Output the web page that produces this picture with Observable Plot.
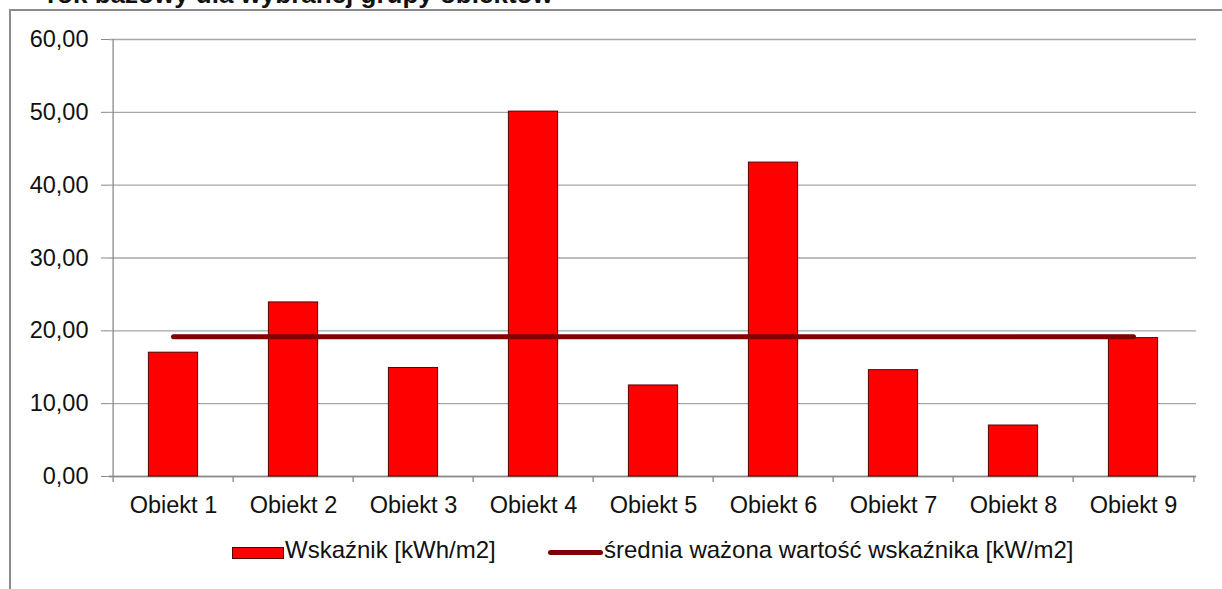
<!DOCTYPE html>
<html>
<head>
<meta charset="utf-8">
<script src="https://cdn.jsdelivr.net/npm/d3@7"></script>
<script src="https://cdn.jsdelivr.net/npm/@observablehq/plot@0.6"></script>
<style>
  html, body { margin: 0; padding: 0; background: #fff; }
  #wrap { position: relative; width: 1222px; height: 589px; overflow: hidden; background: #fff;
          font-family: "Liberation Sans", Arial, sans-serif; color: #111; }
  #title { position: absolute; left: 47px; top: -19px; font-size: 26px; line-height: 1; font-weight: bold; white-space: nowrap; }
  #frame { position: absolute; left: 9px; top: 9px; width: 1300px; height: 700px; border: 2px solid #8c8c8c; box-sizing: border-box; }
  #chart { position: absolute; left: 0; top: 0; }
  #legend { position: absolute; left: 0; top: 535px; width: 1222px; height: 30px; font-size: 24px; }
  .sw-bar { position: absolute; left: 232px; top: 12px; width: 50px; height: 10px; background: #ff0000; border: 1px solid #5a0000; }
  .sw-line { position: absolute; left: 548px; top: 15px; width: 55px; height: 5px; background: #800000; border-radius: 3px; }
  .lt { position: absolute; top: 1px; line-height: 1.2; white-space: nowrap; }
</style>
</head>
<body>
<div id="wrap">
  <div id="title"></div>
  <div id="frame"></div>
  <div id="chart"></div>
  <div id="legend">
    <div class="sw-bar"></div><span class="lt" id="l1" style="left:285px"></span>
    <div class="sw-line"></div><span class="lt" id="l2" style="left:604px"></span>
  </div>
</div>
<script>
const titleText = "rok bazowy dla wybranej grupy obiektów";
const categories = ["Obiekt 1", "Obiekt 2", "Obiekt 3", "Obiekt 4", "Obiekt 5", "Obiekt 6", "Obiekt 7", "Obiekt 8", "Obiekt 9"];
const indicatorValues = [17.0, 23.9, 14.9, 50.1, 12.5, 43.1, 14.6, 7.0, 19.0];
const weightedAverage = [19.2, 19.2, 19.2, 19.2, 19.2, 19.2, 19.2, 19.2, 19.2];
const yTicks = [0, 10, 20, 30, 40, 50, 60];
const seriesNames = ["Wskaźnik [kWh/m2]", "średnia ważona wartość wskaźnika [kW/m2]"];

document.getElementById("title").textContent = titleText;
document.getElementById("l1").textContent = seriesNames[0];
document.getElementById("l2").textContent = seriesNames[1];

const data = categories.map((c, i) => ({name: c, value: indicatorValues[i], avg: weightedAverage[i]}));

const W = 1222, H = 520;
const mL = 109, mR = 26, mT = 39, mB = 44;
const bw = (W - mL - mR) / categories.length;
const barInset = (bw - 50) / 2;
const fmt = d => d.toFixed(2).replace(".", ",");
const boundaryCats = categories.map((c, i) => ({name: c, dx: -bw / 2})).concat([{name: categories[categories.length - 1], dx: bw / 2}]);

const chart = Plot.plot({
  width: W, height: H,
  marginLeft: mL, marginRight: mR, marginTop: mT, marginBottom: mB,
  style: {fontFamily: "'Liberation Sans', Arial, sans-serif", fontSize: "23.5px", color: "#111", background: "transparent"},
  x: {domain: categories, padding: 0, label: null},
  y: {domain: [0, 60], label: null},
  marks: [
    Plot.gridY(yTicks, {stroke: "#a6a6a6", strokeOpacity: 1, strokeWidth: 1.3}),
    Plot.axisY(yTicks, {tickFormat: fmt, tickSize: 8, tickPadding: 13, stroke: "#888", label: null, fontSize: 23.5}),
    Plot.axisX({tickSize: 0, tickPadding: 20, label: null, fontSize: 23.5}),
    Plot.ruleX([categories[0]], {dx: -bw / 2, stroke: "#888", strokeWidth: 1.3}),
    ...boundaryCats.map(b => Plot.ruleX([b.name], {dx: b.dx, y1: 0, y2: 0, insetBottom: -6, stroke: "#888", strokeWidth: 1.3})),
    Plot.ruleY([0], {stroke: "#888", strokeWidth: 1.3}),
    Plot.barY(data, {x: "name", y: "value", fill: "#ff0000", stroke: "#5a0000", strokeWidth: 1, insetLeft: barInset, insetRight: barInset}),
    Plot.lineY(data, {x: "name", y: "avg", stroke: "#800000", strokeWidth: 5, strokeLinecap: "round"})
  ]
});
document.getElementById("chart").appendChild(chart);
</script>
</body>
</html>
